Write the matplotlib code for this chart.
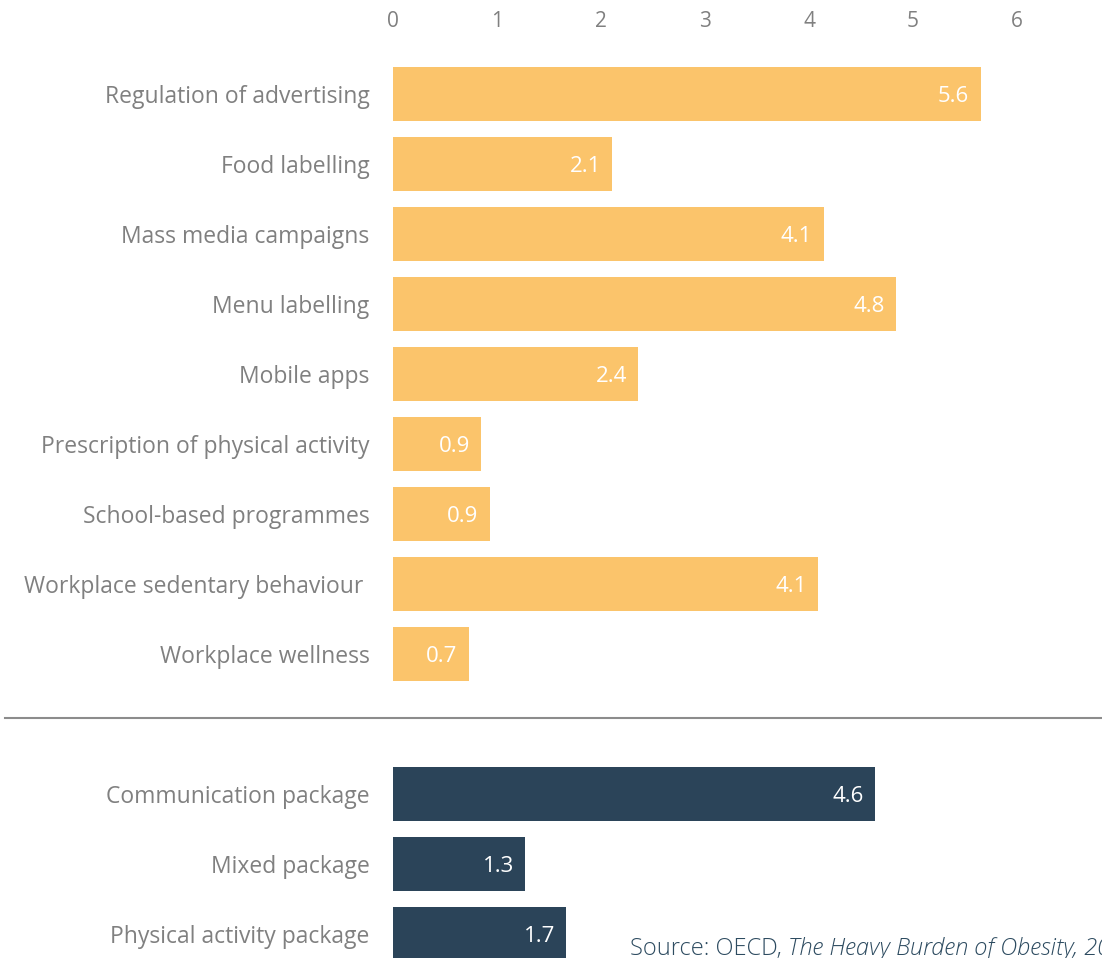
import matplotlib.pyplot as plt

# interventions (top group) and packages (bottom group)
interventions = ["Regulation of advertising", "Food labelling", "Mass media campaigns",
                 "Menu labelling", "Mobile apps", "Prescription of physical activity",
                 "School-based programmes", "Workplace sedentary behaviour ",
                 "Workplace wellness"]
interv_values = [5.65, 2.11, 4.14, 4.84, 2.36, 0.85, 0.93, 4.09, 0.73]
interv_labels = ["5.6", "2.1", "4.1", "4.8", "2.4", "0.9", "0.9", "4.1", "0.7"]

packages = ["Communication package", "Mixed package", "Physical activity package"]
pack_values = [4.64, 1.28, 1.67]
pack_labels = ["4.6", "1.3", "1.7"]

xticks = [0, 1, 2, 3, 4, 5, 6]

orange = "#fbc46b"
navy = "#2b4459"
grey = "#808080"

plt.rcParams['font.family'] = ['Open Sans', 'DejaVu Sans']

fig = plt.figure(figsize=(11.02, 9.58), dpi=100)
# axes from x=393px to right edge, y from 40px to bottom edge
ax = fig.add_axes([393 / 1102, 0, 1 - 393 / 1102, 1 - 40 / 958])

pos_top = list(range(len(interventions)))
pos_bot = [len(interventions) + 1 + i for i in range(len(packages))]

ax.barh(pos_top, interv_values, height=0.77, color=orange)
ax.barh(pos_bot, pack_values, height=0.77, color=navy, left=-0.01)

for p, v, s in zip(pos_top, interv_values, interv_labels):
    ax.text(v - 0.11, p, s, ha='right', va='center_baseline', color='white', fontsize=16)
for p, v, s in zip(pos_bot, pack_values, pack_labels):
    ax.text(v - 0.11, p, s, ha='right', va='center_baseline', color='white', fontsize=16)

ax.set_yticks(pos_top + pos_bot)
ax.set_yticklabels(interventions + packages)
ax.tick_params(axis='y', length=0, pad=17, labelsize=16.5, labelcolor=grey)

ax.xaxis.tick_top()
ax.set_xticks(xticks)
ax.tick_params(axis='x', length=0, pad=6, labelsize=15, labelcolor=grey)

ax.set_xlim(0, (1102 - 393) / 104)
ax.set_ylim((958 - 94) / 70, (40 - 94) / 70)

for sp in ax.spines.values():
    sp.set_visible(False)

# separator line across the figure
fig.add_artist(plt.Line2D([5 / 1102, 1], [1 - 718 / 958, 1 - 718 / 958],
                          color="#8c8c8c", lw=1.5))

src = fig.text(630 / 1102, 1 - 955 / 958, "Source: OECD, ", color="#2d4b60",
               fontsize=17, fontweight='light', va='baseline')
ax.annotate("The Heavy Burden of Obesity, 2019", xy=(1, 0), xycoords=src,
            va='bottom', ha='left', color="#2d4b60", fontsize=17,
            fontstyle='italic', fontweight='light', annotation_clip=False)

fig.savefig("out.png", dpi=100)
